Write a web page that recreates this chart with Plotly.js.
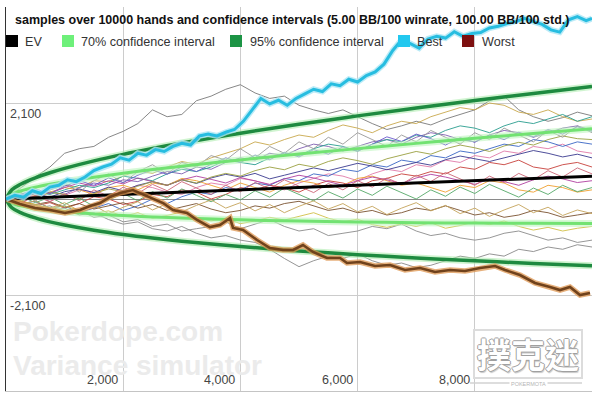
<!DOCTYPE html>
<html><head><meta charset="utf-8">
<script src="https://cdn.plot.ly/plotly-3.0.1.min.js"></script>
<style>html,body{margin:0;padding:0;background:#fff}#chart{width:600px;height:396px}</style>
</head><body><div id="chart"></div>
<script>
// ---------- data ----------
const titleText = "samples over 10000 hands and confidence intervals (5.00 BB/100 winrate, 100.00 BB/100 std.)";
const legendNames = ["EV", "70% confidence interval", "95% confidence interval", "Best", "Worst"];
const xTicks = [2000, 4000, 6000, 8000];
const xTickText = ["2,000", "4,000", "6,000", "8,000"];
const yTicks = [2100, -2100];
const yTickText = ["2,100", "-2,100"];

const evX = [0, 10000];
const evY = [0, 500];

const ciX = [0, 100, 250, 500, 750, 1000, 1500, 2000, 2500, 3000, 4000, 5000, 6000, 7000, 8000, 9000, 10000];
const ci95Up = [0, 201, 322, 463, 574, 670, 834, 977, 1105, 1224, 1440, 1636, 1818, 1990, 2153, 2309, 2460];
const ci95Lo = [0, -191, -297, -413, -500, -570, -684, -777, -855, -924, -1040, -1136, -1218, -1290, -1353, -1409, -1460];
const ci70Up = [0, 109, 176, 257, 321, 378, 476, 563, 643, 717, 855, 983, 1102, 1217, 1327, 1433, 1536];
const ci70Lo = [0, -99, -151, -207, -246, -278, -326, -363, -393, -417, -455, -483, -502, -517, -527, -533, -536];

const bestX = [0,150,300,450,600,750,900,1050,1200,1350,1500,1650,1800,1950,2100,2250,2400,2550,2700,2850,3000,3150,3300,3450,3600,3750,3900,4050,4200,4350,4500,4650,4800,4950,5100,5250,5400,5550,5700,5850,6000,6150,6300,6450,6600,6750,6900,7050,7200,7350,7500,7650,7800,7950,8100,8250,8400,8550,8700,8850,9000,9150,9300,9450,9600,9750,9900,10000];
const bestY = [0,80,40,180,120,260,300,420,380,480,620,700,760,900,850,1000,960,1080,1040,1150,1220,1180,1380,1420,1380,1460,1520,1700,1950,2200,2080,2160,2050,2200,2300,2400,2350,2520,2480,2620,2560,2700,2780,2950,3250,3480,3400,3300,3500,3560,3520,3660,3560,3620,3640,3740,3780,3840,3880,3950,3880,3820,3700,3650,3920,3990,3900,3950];

const worstX = [0,239,495,751,1007,1263,1433,1604,1775,1945,2167,2457,2679,2850,3089,3260,3481,3652,3823,3874,4045,4284,4505,4727,4898,5068,5239,5478,5700,5819,6041,6297,6553,6809,7065,7321,7577,7833,8089,8345,8515,8771,9027,9283,9454,9624,9795,9966];
const worstY = [0,-109,-197,-241,-306,-241,-153,-88,44,131,197,44,-88,-241,-306,-459,-613,-569,-416,-634,-678,-897,-1072,-1116,-1116,-1006,-1159,-1291,-1291,-1400,-1378,-1466,-1444,-1553,-1509,-1597,-1553,-1575,-1509,-1466,-1553,-1663,-1838,-1925,-1991,-1925,-2100,-2056];

const sampleX = [0,250,500,750,1000,1250,1500,1750,2000,2250,2500,2750,3000,3250,3500,3750,4000,4250,4500,4750,5000,5250,5500,5750,6000,6250,6500,6750,7000,7250,7500,7750,8000,8250,8500,8750,9000,9250,9500,9750,10000];
const s1 = [0,250,480,700,1000,1100,1150,1350,1480,1650,1950,1800,1850,2150,2250,2400,2500,2320,2200,2250,2050,1950,1870,1950,1800,1650,1520,1600,1700,1620,1750,1850,1950,2150,2250,1950,1800,1700,1780,1900,1820];
const s2 = [0,120,80,200,300,250,400,380,500,620,560,700,820,760,900,1000,1100,1250,1180,1300,1400,1350,1500,1620,1550,1450,1600,1700,1650,1800,1900,2000,1950,2100,2050,1900,1850,1950,1800,1700,1750];
const s3 = [0,-80,60,150,100,250,350,300,420,380,500,600,550,700,650,800,900,850,1000,950,1100,1200,1150,1050,1150,1250,1300,1200,1350,1450,1400,1300,1250,1400,1500,1450,1350,1450,1550,1600,1500];
const s4 = [0,50,150,100,200,300,250,350,500,450,400,550,650,600,700,850,800,750,900,1000,950,1100,1200,1150,1050,1200,1300,1250,1400,1350,1500,1600,1550,1450,1600,1700,1650,1750,1850,1700,1800];
const s5 = [0,100,50,-50,80,200,150,50,180,300,250,150,100,250,350,300,450,400,300,200,350,450,550,500,400,550,650,600,750,700,850,800,950,900,1050,1000,1150,1100,1200,1050,1000];
const s6 = [0,-60,-150,-80,-200,-100,50,0,-120,-50,100,50,200,150,0,100,250,200,300,250,150,300,400,350,250,400,450,550,500,600,550,700,650,800,750,850,700,650,750,800,700];
const s7 = [0,80,0,150,250,200,100,250,300,200,350,300,450,400,300,200,350,250,150,300,400,350,250,300,450,500,400,300,350,250,150,300,250,400,350,200,150,300,250,150,200];
const s8 = [0,-100,-50,-200,-150,-300,-200,-100,-250,-150,0,-100,50,150,100,250,200,350,300,450,400,550,500,650,600,750,700,850,800,950,900,1050,1000,1100,1200,1150,1300,1250,1150,1250,1200];
const s9 = [0,-100,-200,-150,-300,-250,-400,-350,-500,-450,-600,-550,-700,-650,-600,-500,-650,-550,-450,-600,-700,-650,-800,-750,-700,-600,-650,-550,-700,-800,-750,-850,-900,-850,-750,-700,-800,-900,-850,-950,-900];
const s10 = [0,-50,-150,-250,-200,-350,-300,-450,-550,-500,-650,-700,-600,-750,-850,-800,-900,-950,-1100,-1300,-1480,-1350,-1250,-1300,-1200,-1350,-1450,-1400,-1500,-1450,-1350,-1250,-1300,-1200,-1250,-1100,-1150,-1050,-1100,-1000,-1050];
const s11 = [0,-50,-120,-60,-180,-100,-220,-150,-80,-200,-120,-250,-180,-100,-220,-300,-250,-150,-200,-100,-50,-150,-250,-200,-300,-250,-350,-300,-200,-250,-150,-250,-350,-300,-400,-350,-250,-300,-400,-350,-300];
const s12 = [0,60,120,40,160,220,140,260,180,300,380,300,420,340,460,540,480,560,440,520,600,680,620,700,780,720,640,720,800,740,860,940,880,820,900,980,1060,1000,920,980,900];
const s13 = [0,-40,-120,-200,-150,-250,-320,-260,-380,-300,-420,-360,-280,-400,-480,-420,-540,-480,-400,-460,-380,-300,-420,-500,-440,-560,-620,-540,-600,-520,-640,-580,-500,-560,-480,-600,-680,-620,-700,-640,-600];
const s14 = [0,80,180,120,250,350,280,400,330,460,380,300,420,500,430,350,470,400,320,440,520,460,380,300,400,480,420,340,460,540,480,400,320,440,380,300,420,500,440,360,400];
const s15 = [0,-50,50,150,100,0,120,220,160,280,380,300,420,350,480,560,500,620,700,640,760,700,820,900,840,760,880,960,1040,980,1100,1180,1120,1040,1160,1240,1180,1300,1380,1320,1300];
const s16 = [0,150,-50,200,350,150,400,550,350,600,750,550,800,700,950,850,1100,900,1150,1000,1250,1100,1350,1200,1450,1300,1150,1400,1250,1500,1350,1200,1450,1300,1550,1400,1250,1500,1350,1600,1450];
const s17 = [0,-100,80,-60,120,-40,200,60,260,120,320,180,380,240,100,300,160,360,220,420,280,140,340,200,400,260,460,320,520,380,580,440,300,500,360,560,420,620,480,680,550];
const s18 = [0,60,-80,40,-120,20,-160,-20,120,-40,160,20,220,80,-60,100,-20,180,40,240,100,-40,160,20,220,80,280,140,0,200,60,260,120,320,180,40,240,100,300,160,250];
const s19 = [0,-120,-40,-200,-80,-260,-140,-320,-180,-60,-240,-100,-280,-140,-20,-200,-80,-260,-120,-300,-160,-40,-220,-100,-280,-160,-340,-200,-80,-260,-140,-320,-200,-380,-240,-120,-300,-180,-360,-240,-320];
const s20 = [0,100,220,120,280,400,300,460,360,520,640,540,700,600,760,900,800,960,860,1020,920,1080,980,1140,1040,1200,1360,1260,1420,1320,1180,1340,1240,1400,1300,1460,1360,1520,1420,1580,1480];
const samples = [s1, s2, s3, s4, s5, s6, s7, s8, s9, s10, s11, s12, s13, s14, s15, s16, s17, s18, s19, s20];
const sampleColors = ["#7a7a7a","#c9a94e","#7f5fb0","#2a9d8f","#e07aa8","#c8413c","#f0a030","#3a66c4","#8c8c8c","#8a8a8a","#7a5230","#3b3b8f","#d2c048","#b040a0","#9aa040","#999999","#cc6677","#55a868","#c4a35a","#6a5acd"];

// ---------- traces ----------
const traces = [];
samples.forEach((s, i) => traces.push({x: sampleX, y: s, mode: "lines", line: {color: sampleColors[i], width: 1}, opacity: 0.9, hoverinfo: "skip", showlegend: false}));

function halo(x, y, color, w) { return {x, y, mode: "lines", line: {color, width: w, shape: "spline"}, hoverinfo: "skip", showlegend: false}; }
[ci70Up, ci70Lo].forEach(c => { traces.push(halo(ciX, c, "rgba(190,245,190,0.6)", 7)); traces.push(halo(ciX, c, "#72e272", 3)); });
[ci95Up, ci95Lo].forEach(c => { traces.push(halo(ciX, c, "rgba(170,235,170,0.55)", 7)); traces.push(halo(ciX, c, "#1e8a40", 3.5)); });
traces.push({x: evX, y: evY, mode: "lines", line: {color: "#000", width: 3}, hoverinfo: "skip", showlegend: false});
traces.push({x: worstX, y: worstY, mode: "lines", line: {color: "rgba(222,150,80,0.75)", width: 5.5}, hoverinfo: "skip", showlegend: false});
traces.push({x: worstX, y: worstY, mode: "lines", line: {color: "#70421c", width: 2.6}, hoverinfo: "skip", showlegend: false});
traces.push({x: bestX, y: bestY, mode: "lines", line: {color: "rgba(170,230,245,0.8)", width: 6}, hoverinfo: "skip", showlegend: false});
traces.push({x: bestX, y: bestY, mode: "lines", line: {color: "#27bde0", width: 3}, hoverinfo: "skip", showlegend: false});

// ---------- layout helpers ----------
const W = 600, H = 396, ML = 6, MR = 8, MT = 7, MB = 5;
const px = v => (v - ML) / (W - ML - MR);
const py = v => (H - MB - v) / (H - MT - MB);

const font = "Arial, 'Liberation Sans', sans-serif";
const annotations = [];
const shapes = [];

annotations.push({xref: "paper", yref: "paper", x: px(13), y: py(20), xanchor: "left", yanchor: "middle", showarrow: false,
  text: "<b>" + titleText + "</b>", font: {family: font, size: 12.5, color: "#111"}});

const legColors = ["#000000", "#6ef07a", "#1c9445", "#22c8ef", "#7d0f0f"];
const legSq = [6, 62, 230, 398, 462];
const legTx = [23, 79, 248, 415, 480];
legendNames.forEach((n, i) => {
  shapes.push({type: "rect", xref: "paper", yref: "paper", x0: px(legSq[i]), x1: px(legSq[i] + 12), y0: py(47), y1: py(35), fillcolor: legColors[i], line: {width: 0}});
  annotations.push({xref: "paper", yref: "paper", x: px(legTx[i]), y: py(41.5), xanchor: "left", yanchor: "middle", showarrow: false, text: n, font: {family: font, size: 12.6, color: "#333"}});
});

xTicks.forEach((v, i) => annotations.push({xref: "x", yref: "y", x: v, y: -4200, xanchor: "right", yanchor: "bottom", xshift: -3, yshift: 2, showarrow: false, text: xTickText[i], font: {family: font, size: 12.5, color: "#444"}}));
yTicks.forEach((v, i) => annotations.push({xref: "x", yref: "y", x: 0, y: v, xanchor: "left", yanchor: "top", xshift: 2, yshift: -2, showarrow: false, text: yTickText[i], font: {family: font, size: 12.5, color: "#444"}}));

// watermark
annotations.push({xref: "paper", yref: "paper", x: px(11), y: py(331), xanchor: "left", yanchor: "middle", showarrow: false, text: "<b>Pokerdope.com</b>", font: {family: font, size: 28, color: "#ebebeb"}});
annotations.push({xref: "paper", yref: "paper", x: px(11), y: py(365), xanchor: "left", yanchor: "middle", showarrow: false, text: "<b>Variance simulator</b>", font: {family: font, size: 28, color: "#ebebeb"}});

// logo
const lx0 = px(474), lx1 = px(582), ly0 = py(378), ly1 = py(330);
shapes.push({type: "rect", xref: "paper", yref: "paper", x0: lx0, x1: lx1, y0: ly0, y1: ly1, line: {color: "#dcdcdc", width: 2}, fillcolor: "rgba(255,255,255,0.7)"});
shapes.push({type: "line", xref: "paper", yref: "paper", x0: px(470), x1: px(582), y0: py(383), y1: py(383), line: {color: "#d2d2d2", width: 1.5}});
annotations.push({xref: "paper", yref: "paper", x: px(528), y: py(353), xanchor: "center", yanchor: "middle", showarrow: false, text: "<b>撲克迷</b>",
  font: {family: "'Noto Sans CJK TC', 'Noto Sans CJK SC', sans-serif", size: 34, color: "#ffffff", shadow: "1px 0 0 #a0a0a0, -1px 0 0 #a0a0a0, 0 1px 0 #a0a0a0, 0 -1px 0 #a0a0a0, 1px 2px 1px #c8c8c8"}});
annotations.push({xref: "paper", yref: "paper", x: px(528), y: py(383.5), xanchor: "center", yanchor: "middle", showarrow: false, text: "POKERMOTA", bgcolor: "#fff",
  font: {family: font, size: 5.5, color: "#b5b5b5"}});

const layout = {
  width: W, height: H,
  margin: {l: ML, r: MR, t: MT, b: MB, pad: 0},
  paper_bgcolor: "#fff", plot_bgcolor: "#fff",
  showlegend: false,
  xaxis: {range: [0, 10000], tickvals: [0, 2000, 4000, 6000, 8000, 10000], showticklabels: false, ticks: "", showgrid: true, gridcolor: "#cccccc", gridwidth: 1,
    zeroline: false, showline: true, linecolor: "#c4c4c4", linewidth: 1, fixedrange: true},
  yaxis: {range: [-4200, 4200], tickvals: [-4200, -2100, 0, 2100, 4200], showticklabels: false, ticks: "", showgrid: true, gridcolor: "#cccccc", gridwidth: 1,
    zeroline: true, zerolinecolor: "#8a8a8a", zerolinewidth: 1, showline: true, linecolor: "#333", linewidth: 1.5, fixedrange: true},
  annotations, shapes
};

Plotly.newPlot("chart", traces, layout, {displayModeBar: false, staticPlot: true});
</script></body></html>
